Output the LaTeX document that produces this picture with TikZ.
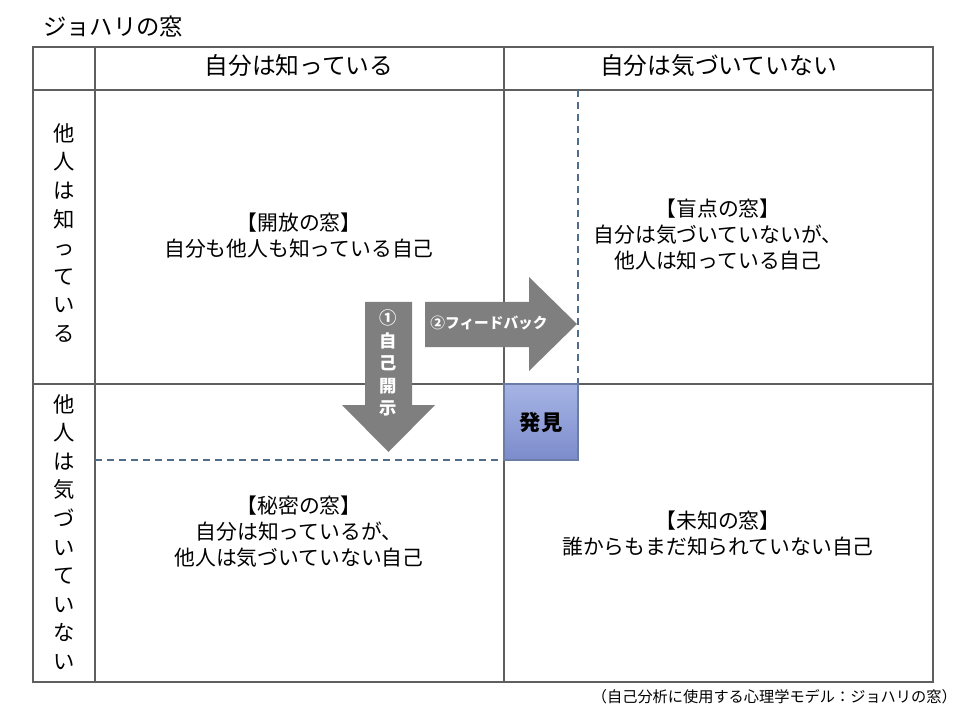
\documentclass[tikz,border=0pt]{standalone}
\usepackage{fontspec}
\setmainfont{Noto Sans CJK JP}
\usepackage{xcolor}
\usepackage{tikz}
\usetikzlibrary{positioning}
\definecolor{gridgray}{RGB}{95,95,95}
\definecolor{dashblue}{RGB}{80,110,140}
\definecolor{arrowgray}{RGB}{127,127,127}
\definecolor{findtop}{RGB}{166,180,228}
\definecolor{findbot}{RGB}{124,140,204}
\definecolor{findedge}{RGB}{105,125,165}

\begin{document}
\begin{tikzpicture}[x=0.75pt,y=-0.75pt]
			\tikzstyle{GridLine}  = [draw=gridgray, line width=1.1pt]
			\tikzstyle{GuideLine} = [draw=dashblue, line width=1.3pt, dash pattern=on 5.5pt off 3.5pt]
			\tikzstyle{HeadText}  = [font=\fontsize{17.8}{20}\selectfont, inner sep=0pt]
			\tikzstyle{SideText}  = [font=\fontsize{16}{21.45}\selectfont, align=center, inner sep=0pt]
			\tikzstyle{CellText}  = [font=\fontsize{15.6}{19.5}\selectfont, align=center, inner sep=0pt]
			\tikzstyle{BigArrow}  = [fill=arrowgray]
			\tikzstyle{ArrowText} = [text=white, font=\bfseries\fontsize{11}{16.9}\selectfont, align=center, inner sep=0pt]
			\useasboundingbox (0,0) rectangle (960,720);
			%\draw[help lines, step=50] (0,0) grid (960,720);
			\node[anchor=west, font=\fontsize{17.5}{20}\selectfont, inner sep=0pt] (title) at (43,27) {ジョハリの窓};
			
			% table
			\draw[GridLine] (33,47) rectangle (933,682);
			\draw[GridLine] (95,47) -- (95,682);
			\draw[GridLine] (504,47) -- (504,682);
			\draw[GridLine] (33,90) -- (933,90);
			\draw[GridLine] (33,384) -- (933,384);
			
			\node[HeadText] (selfknown) at (299,66) {自分は知っている};
			\node[HeadText] (selfunknown) at (718.5,66) {自分は気づいていない};
			\node[SideText] (othersknown) at (64,233) {他\\人\\は\\知\\っ\\て\\い\\る};
			\node[SideText] (othersunknown) at (64,532) {他\\人\\は\\気\\づ\\い\\て\\い\\な\\い};
			
			% windows
			\node[CellText] (open) at (299,235.5) {【開放の窓】\\自分も他人も知っている自己};
			\node[CellText] (blind) at (718,235) {【盲点の窓】\\自分は気づいていないが、\\他人は知っている自己};
			\node[CellText] (hidden) at (299,531.5) {【秘密の窓】\\自分は知っているが、\\他人は気づいていない自己};
			\node[CellText] (unknown) at (718,534) {【未知の窓】\\誰からもまだ知られていない自己};
			
			% widened open window
			\draw[GuideLine] (578,90) -- (578,384);
			\draw[GuideLine] (95,460) -- (504,460);
			\path[draw=findedge, line width=0.9pt, top color=findtop, bottom color=findbot] (504,384) rectangle (578,460);
			\node[font=\bfseries\fontsize{16}{20}\selectfont, inner sep=0pt] (find) at (541,422) {発見};
			
			\fill[BigArrow] (365,302) -- (412,302) -- (412,405) -- (435,405) -- (388.5,452) -- (342,405) -- (365,405) -- cycle;
			\fill[BigArrow] (425,302) -- (529,302) -- (529,277) -- (577,324) -- (529,371) -- (529,347) -- (425,347) -- cycle;
			\node[ArrowText, font=\bfseries\fontsize{13}{16.9}\selectfont] (disclose) at (388.5,363) {①\\自\\己\\開\\示};
			\node[ArrowText] (feedback) at (489,323) {②フィードバック};
			
			\node[anchor=east, font=\fontsize{11.4}{13}\selectfont, inner sep=0pt] (source) at (957,697) {（自己分析に使用する心理学モデル：ジョハリの窓）};
		\end{tikzpicture}
\end{document}
